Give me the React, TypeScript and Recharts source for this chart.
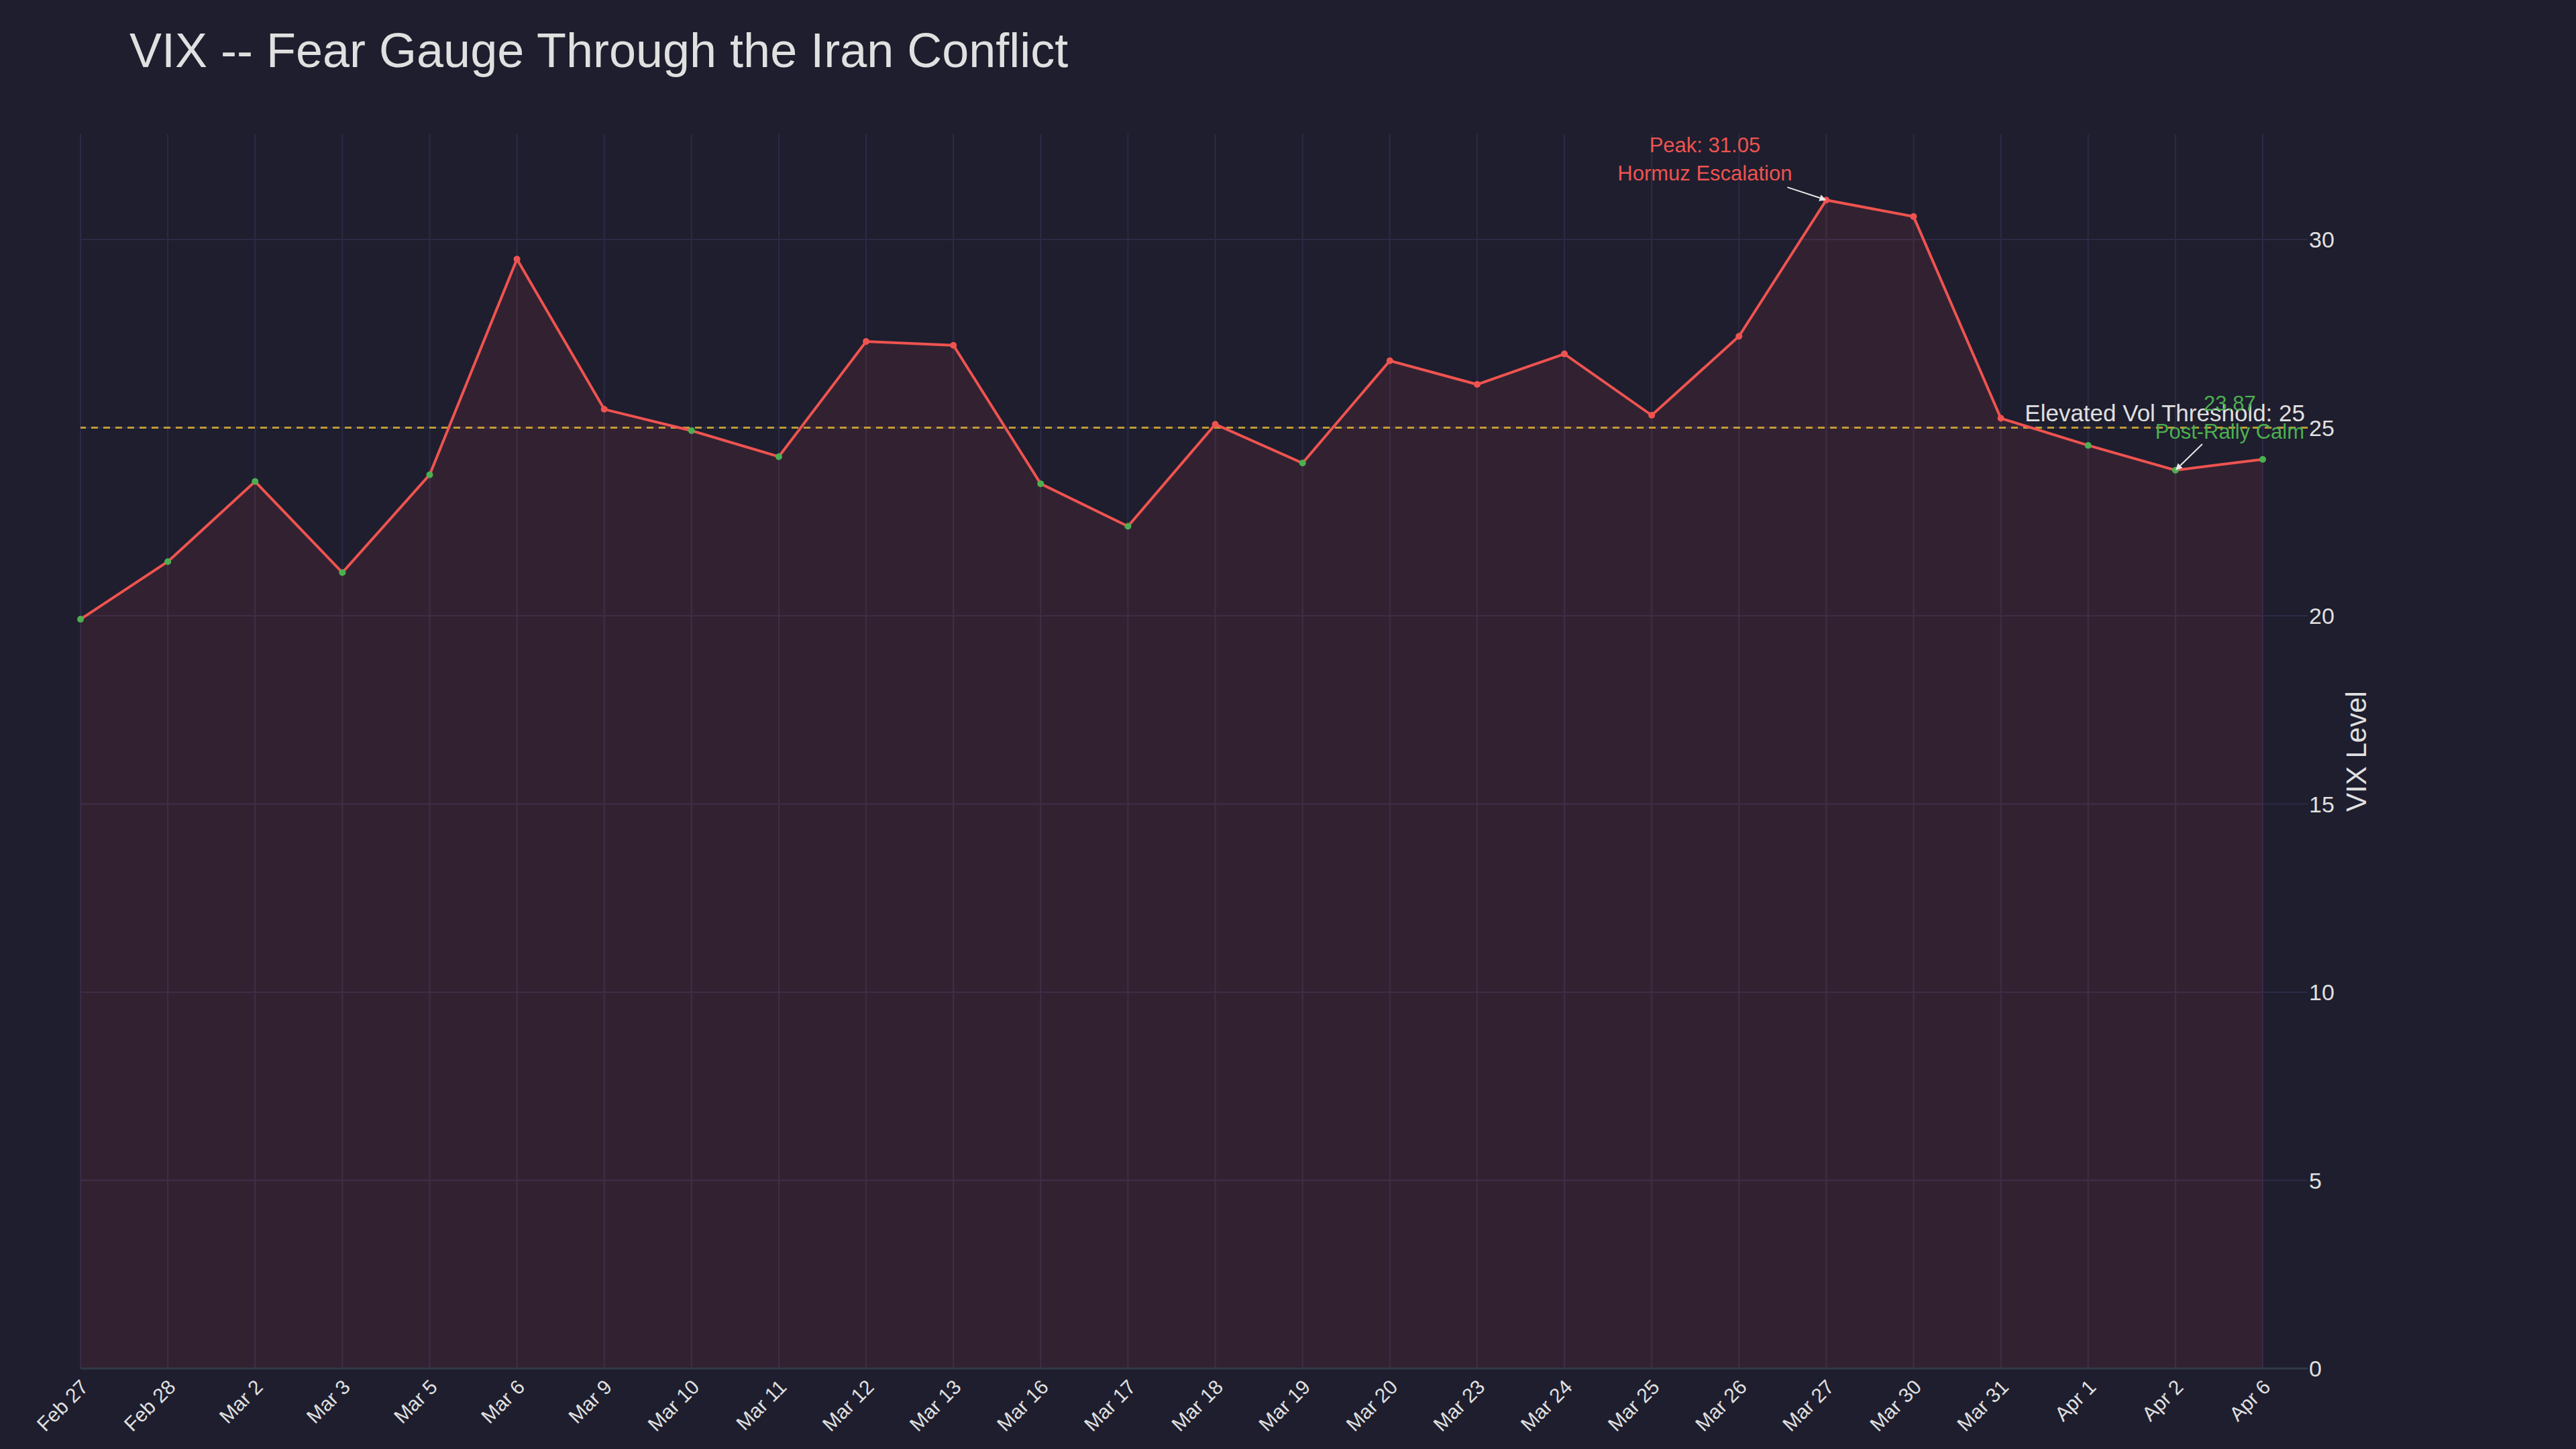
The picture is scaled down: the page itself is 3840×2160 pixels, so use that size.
import React from 'react';
import {
  ComposedChart,
  Area,
  Line,
  XAxis,
  YAxis,
  CartesianGrid,
  ReferenceLine,
  ReferenceDot,
} from 'recharts';

const dates = [
  'Feb 27', 'Feb 28', 'Mar 2', 'Mar 3', 'Mar 5', 'Mar 6', 'Mar 9', 'Mar 10', 'Mar 11',
  'Mar 12', 'Mar 13', 'Mar 16', 'Mar 17', 'Mar 18', 'Mar 19', 'Mar 20', 'Mar 23',
  'Mar 24', 'Mar 25', 'Mar 26', 'Mar 27', 'Mar 30', 'Mar 31', 'Apr 1', 'Apr 2', 'Apr 6',
];

const vix = [
  19.91, 21.44, 23.57, 21.15, 23.75, 29.48, 25.49, 24.92, 24.23,
  27.29, 27.19, 23.51, 22.38, 25.09, 24.06, 26.78, 26.15,
  26.96, 25.33, 27.43, 31.05, 30.61, 25.25, 24.53, 23.87, 24.16,
];

const yTicks = [0, 5, 10, 15, 20, 25, 30];
const threshold = 25;

const peakDate = 'Mar 27';
const peakValue = 31.05;
const calmDate = 'Apr 2';
const calmValue = 23.87;

const BG = '#1e1e2e';
const RED = '#ef5350';
const GREEN = '#4caf50';
const TEXT = '#e0e0e0';
const FONT = '"Liberation Sans", Arial, sans-serif';

const data = dates.map((d, i) => ({ date: d, vix: vix[i] }));

const VixDot = (props: any) => {
  const { cx, cy, payload } = props;
  if (cx == null || cy == null) return null;
  return <circle cx={cx} cy={cy} r={5} fill={payload.vix >= threshold ? RED : GREEN} />;
};

const DateTick = (props: any) => {
  const { x, payload } = props;
  return (
    <g transform={`translate(${x + 6},${2062})`}>
      <text
        transform="rotate(-45)"
        textAnchor="end"
        dy="0.35em"
        fill={TEXT}
        fontSize={30}
        fontFamily={FONT}
      >
        {payload.value}
      </text>
    </g>
  );
};

const YTitle = (props: any) => {
  const { viewBox } = props;
  if (!viewBox) return null;
  const cx = viewBox.x + 72;
  const cy = viewBox.y + viewBox.height / 2;
  return (
    <text
      x={cx}
      y={cy}
      transform={`rotate(-90, ${cx}, ${cy})`}
      textAnchor="middle"
      dominantBaseline="central"
      fill={TEXT}
      fontSize={42}
      fontFamily={FONT}
    >
      VIX Level
    </text>
  );
};

const ThresholdLabel = (props: any) => {
  const { viewBox } = props;
  if (!viewBox) return null;
  return (
    <text
      x={viewBox.x + viewBox.width - 4}
      y={viewBox.y - 10}
      textAnchor="end"
      fill={TEXT}
      fontSize={35}
      fontFamily={FONT}
    >
      Elevated Vol Threshold: {threshold}
    </text>
  );
};

// arrow + two-line note, offsets in pixels from the marked point
const Note = ({ cx, cy, lines, color, tx, ty, ax, ay }: any) => {
  if (cx == null || cy == null) return null;
  const x1 = cx + ax;
  const y1 = cy + ay;
  const ang = Math.atan2(cy - y1, cx - x1);
  const hl = 10;
  const hw = 5;
  const bx = cx - hl * Math.cos(ang);
  const by = cy - hl * Math.sin(ang);
  const px = -Math.sin(ang) * hw;
  const py = Math.cos(ang) * hw;
  return (
    <g>
      <line x1={x1} y1={y1} x2={bx} y2={by} stroke="#e8e8e8" strokeWidth={2} />
      <polygon points={`${cx},${cy} ${bx + px},${by + py} ${bx - px},${by - py}`} fill="#e8e8e8" />
      {lines.map((t: string, i: number) => (
        <text
          key={i}
          x={cx + tx}
          y={cy + ty + i * 42}
          textAnchor="middle"
          fill={color}
          fontSize={31}
          fontFamily={FONT}
        >
          {t}
        </text>
      ))}
    </g>
  );
};

const PeakShape = (props: any) => (
  <Note {...props} lines={[`Peak: ${peakValue}`, 'Hormuz Escalation']} color={RED} tx={-181} ty={-71} ax={-58} ay={-19} />
);

const CalmShape = (props: any) => (
  <Note {...props} lines={[`${calmValue}`, 'Post-Rally Calm']} color={GREEN} tx={81} ty={-89} ax={40} ay={-39} />
);

const App = () => {
  return (
    <div style={{ position: 'absolute', left: 0, top: 0, width: 3840, height: 2160, background: BG }}>
      <svg width={3840} height={160} style={{ position: 'absolute', left: 0, top: 0 }}>
        <text x={193} y={100} fill={TEXT} fontSize={72} fontFamily={FONT}>
          VIX -- Fear Gauge Through the Iran Conflict
        </text>
      </svg>
      <ComposedChart
        width={3840}
        height={2160}
        data={data}
        margin={{ top: 200, right: 0, bottom: 0, left: 120 }}
      >
        <CartesianGrid stroke="#2d2a47" strokeWidth={2} syncWithTicks />
        <XAxis
          dataKey="date"
          height={120}
          interval={0}
          padding={{ left: 0, right: 67 }}
          tickLine={false}
          tick={<DateTick />}
          axisLine={{ stroke: '#2f3a46', strokeWidth: 3 }}
        />
        <YAxis
          orientation="right"
          width={400}
          domain={[0, 32.8]}
          ticks={yTicks}
          allowDataOverflow
          tickLine={false}
          axisLine={false}
          tickSize={0}
          tickMargin={2}
          tick={{ fill: TEXT, fontSize: 34, fontFamily: FONT }}
          label={<YTitle />}
        />
        <Area
          dataKey="vix"
          type="linear"
          stroke="none"
          fill={RED}
          fillOpacity={0.1}
          baseValue={0}
          isAnimationActive={false}
        />
        <ReferenceLine
          y={threshold}
          stroke="#f2c230"
          strokeOpacity={0.75}
          strokeWidth={3}
          strokeDasharray="10 8"
          label={<ThresholdLabel />}
        />
        <Line
          dataKey="vix"
          type="linear"
          stroke={RED}
          strokeWidth={4}
          dot={<VixDot />}
          activeDot={false}
          isAnimationActive={false}
        />
        <ReferenceDot x={peakDate} y={peakValue} shape={PeakShape} />
        <ReferenceDot x={calmDate} y={calmValue} shape={CalmShape} />
      </ComposedChart>
    </div>
  );
};

export default App;
